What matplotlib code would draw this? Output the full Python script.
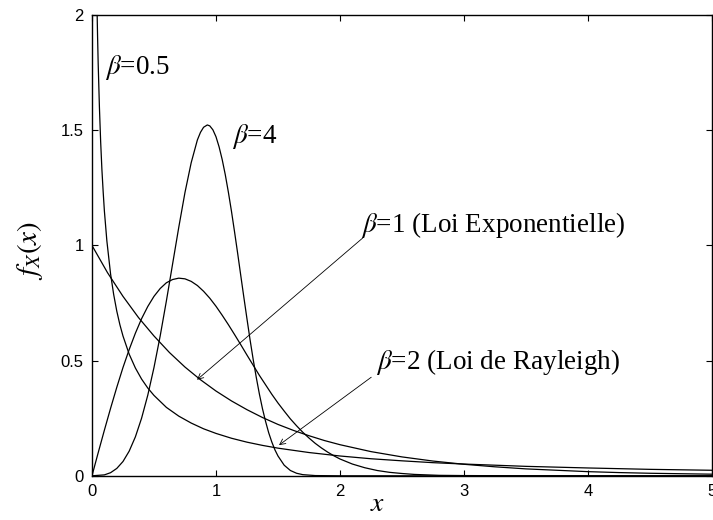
import matplotlib
matplotlib.use("Agg")
import matplotlib.pyplot as plt

# ----------------- data -----------------
# beta = 0.5
x_b05 = [0.01, 0.02, 0.03, 0.035, 0.04, 0.045, 0.05, 0.06, 0.07, 0.08, 0.09, 0.10,
         0.12, 0.15, 0.175, 0.20, 0.225, 0.25, 0.30, 0.35, 0.40, 0.45, 0.50, 0.60,
         0.70, 0.80, 0.90, 1.00, 1.125, 1.25, 1.375, 1.50, 1.75, 2.00, 2.25, 2.50,
         2.75, 3.00, 3.50, 4.00, 4.50, 5.00]
y_b05 = [4.52, 3.07, 2.43, 2.22, 2.05, 1.91, 1.79, 1.60, 1.45, 1.33, 1.235, 1.15,
         1.02, 0.876, 0.787, 0.715, 0.656, 0.607, 0.528, 0.468, 0.420, 0.381, 0.349, 0.297,
         0.259, 0.229, 0.204, 0.184, 0.163, 0.146, 0.132, 0.120, 0.101, 0.086, 0.074, 0.065,
         0.057, 0.051, 0.041, 0.034, 0.028, 0.024]

# beta = 1 (exponentielle)
x_b1 = [0, 0.125, 0.25, 0.375, 0.5, 0.625, 0.75, 0.875, 1.0, 1.125, 1.25, 1.375,
        1.5, 1.625, 1.75, 1.875, 2.0, 2.25, 2.5, 2.75, 3.0, 3.25, 3.5, 3.75, 4.0,
        4.25, 4.5, 4.75, 5.0]
y_b1 = [1.0, 0.882, 0.779, 0.687, 0.607, 0.535, 0.472, 0.417, 0.368, 0.325, 0.287, 0.253,
        0.223, 0.197, 0.174, 0.153, 0.135, 0.105, 0.082, 0.064, 0.050, 0.039, 0.030, 0.024,
        0.018, 0.014, 0.011, 0.009, 0.007]

# beta = 2 (Rayleigh)
x_b2 = [0, 0.05, 0.1, 0.15, 0.2, 0.25, 0.3, 0.35, 0.4, 0.45, 0.5, 0.55, 0.6, 0.65,
        0.7, 0.75, 0.8, 0.85, 0.9, 0.95, 1.0, 1.05, 1.1, 1.15, 1.2, 1.25, 1.3, 1.35,
        1.4, 1.45, 1.5, 1.55, 1.6, 1.65, 1.7, 1.75, 1.8, 1.85, 1.9, 1.95, 2.0, 2.1,
        2.2, 2.3, 2.4, 2.5, 2.6, 2.8, 3.0, 3.5, 5.0]
y_b2 = [0, 0.100, 0.198, 0.293, 0.384, 0.470, 0.548, 0.619, 0.682, 0.735, 0.779, 0.813,
        0.838, 0.852, 0.858, 0.855, 0.844, 0.826, 0.801, 0.771, 0.736, 0.697, 0.656, 0.613,
        0.569, 0.524, 0.480, 0.436, 0.395, 0.354, 0.316, 0.281, 0.247, 0.217, 0.189, 0.164,
        0.141, 0.121, 0.103, 0.087, 0.073, 0.051, 0.035, 0.023, 0.015, 0.010, 0.006, 0.002,
        0.001, 0, 0]

# beta = 4
x_b4 = [0, 0.1, 0.15, 0.2, 0.25, 0.3, 0.35, 0.4, 0.45, 0.5, 0.55, 0.6, 0.65, 0.7,
        0.75, 0.8, 0.85, 0.875, 0.9, 0.93, 0.95, 0.975, 1.0, 1.025, 1.05, 1.075, 1.1,
        1.125, 1.15, 1.175, 1.2, 1.225, 1.25, 1.275, 1.3, 1.325, 1.35, 1.375, 1.4,
        1.425, 1.45, 1.475, 1.5, 1.55, 1.6, 1.65, 1.7, 1.8, 2.0, 5.0]
y_b4 = [0, 0.004, 0.0135, 0.032, 0.062, 0.107, 0.169, 0.250, 0.350, 0.470, 0.607, 0.759,
        0.919, 1.079, 1.230, 1.359, 1.458, 1.491, 1.513, 1.523, 1.519, 1.502, 1.472, 1.428,
        1.373, 1.307, 1.231, 1.148, 1.058, 0.965, 0.869, 0.774, 0.681, 0.590, 0.505, 0.427,
        0.355, 0.291, 0.236, 0.187, 0.147, 0.113, 0.086, 0.046, 0.023, 0.011, 0.005, 0.001,
        0, 0]

x_ticks = [0, 1, 2, 3, 4, 5]
y_ticks = [0, 0.5, 1, 1.5, 2]

plt.rcParams['mathtext.fontset'] = 'stix'
plt.rcParams['font.family'] = 'Liberation Sans'

fig = plt.figure(figsize=(7.13, 5.2), dpi=100)
ax = fig.add_axes([0.129, 0.085, 0.8696, 0.886])

for xs, ys in [(x_b05, y_b05), (x_b1, y_b1), (x_b2, y_b2), (x_b4, y_b4)]:
    ax.plot(xs, ys, color='black', lw=0.9)

ax.set_xlim(0, 5)
ax.set_ylim(0, 2)
ax.set_xticks(x_ticks)
ax.set_yticks(y_ticks)
ax.set_xticklabels([str(t) for t in x_ticks])
ax.set_yticklabels(['0', '0.5', '1', '1.5', '2'])
ax.tick_params(direction='in', top=True, right=True, length=4, width=0.8,
               labelsize=12, pad=6)
for s in ax.spines.values():
    s.set_linewidth(1.0)

# axis labels placed by hand, like in the original figure
ax.set_xlabel(r'$x$', fontsize=20, va='center')
ax.xaxis.set_label_coords(0.461, -0.062)
ax.set_ylabel(r'$f_X(x)$', fontsize=21, va='center')
ax.yaxis.set_label_coords(-0.1, 0.49)

serif = 'Liberation Serif'
fs = 19.5
ax.text(0.105, 1.774, r'$\beta$=0.5', fontsize=fs, family=serif, va='center')
ax.text(1.13, 1.474, r'$\beta$=4', fontsize=fs, family=serif, va='center')
ax.text(2.17, 1.09, r'$\beta$=1 (Loi Exponentielle)', fontsize=fs, family=serif,
        va='center')
ax.text(2.29, 0.496, r'$\beta$=2 (Loi de Rayleigh)', fontsize=fs, family=serif,
        va='center')

ax.annotate('', xy=(0.83, 0.409), xytext=(2.20, 1.04),
            arrowprops=dict(arrowstyle='->', lw=0.6, color='black'))
ax.annotate('', xy=(1.49, 0.126), xytext=(2.27, 0.435),
            arrowprops=dict(arrowstyle='->', lw=0.6, color='black'))

fig.savefig('out.png', dpi=100)
